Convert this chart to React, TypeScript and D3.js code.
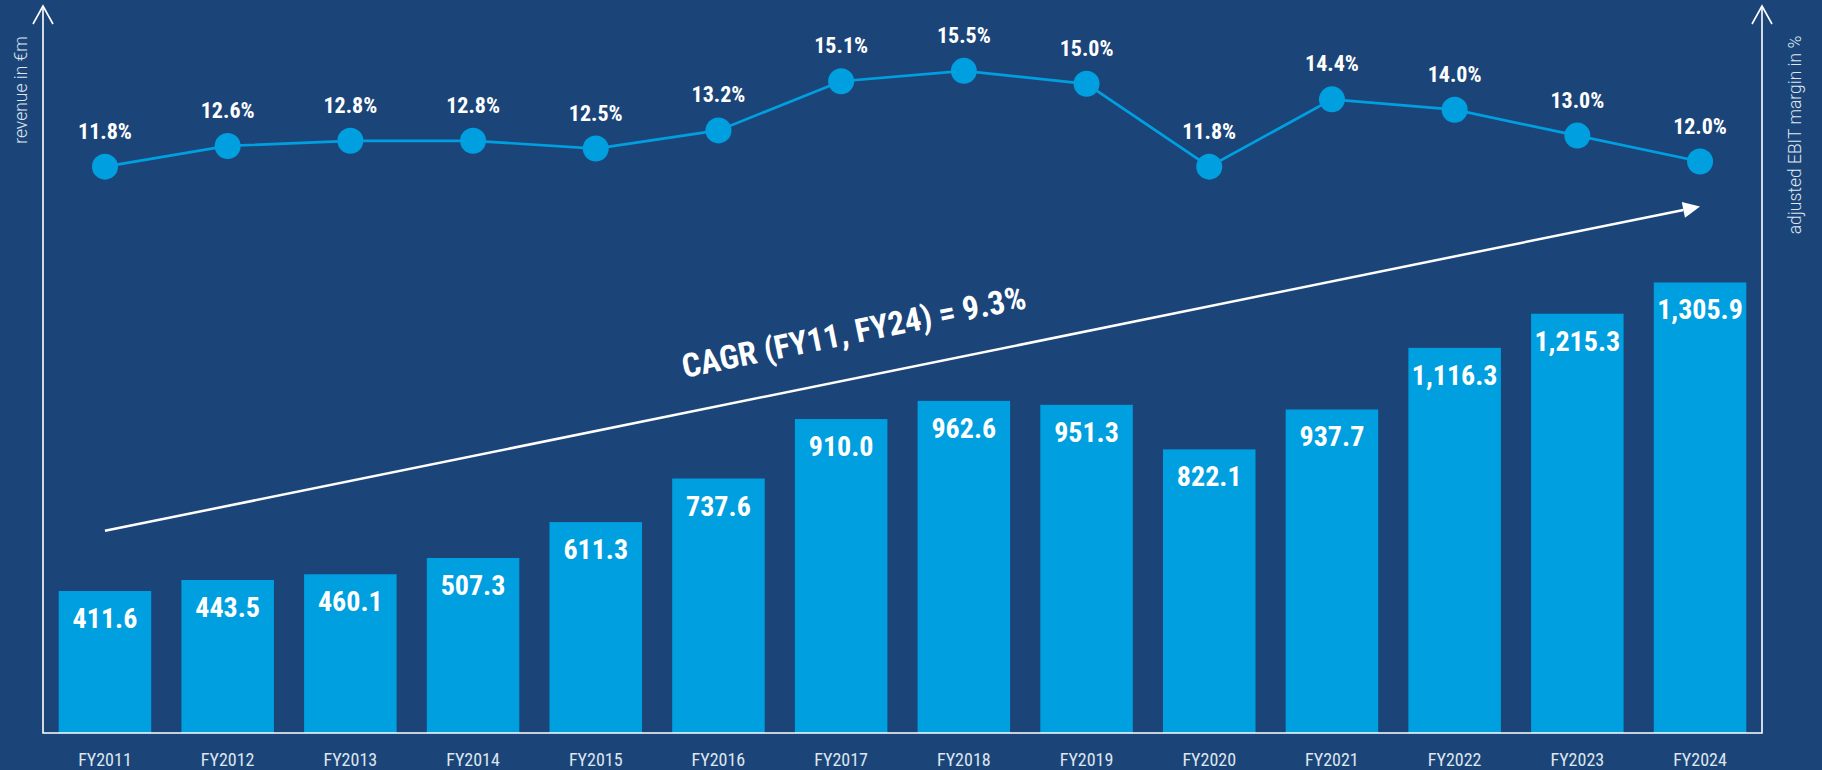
import React from 'react';
import * as d3 from 'd3';

const categories = ['FY2011','FY2012','FY2013','FY2014','FY2015','FY2016','FY2017','FY2018','FY2019','FY2020','FY2021','FY2022','FY2023','FY2024'];
const revenue = [411.6, 443.5, 460.1, 507.3, 611.3, 737.6, 910.0, 962.6, 951.3, 822.1, 937.7, 1116.3, 1215.3, 1305.9];
const ebitMargin = [11.8, 12.6, 12.8, 12.8, 12.5, 13.2, 15.1, 15.5, 15.0, 11.8, 14.4, 14.0, 13.0, 12.0];
const leftAxisTitle = 'revenue in €m';
const rightAxisTitle = 'adjusted EBIT margin in %';
const cagrText = 'CAGR (FY11, FY24) = 9.3%';
// CAGR arrow annotation, expressed in revenue units at first and last category
const cagrArrowFrom = 586;
const cagrArrowTo = 1526;

const W = 1822;
const H = 770;
const BG = '#1b4579';
const BAR = '#009fe0';
const AXIS_TEXT = '#dfe6ef';
const FONT_BOLD = "'Roboto Condensed', 'Liberation Sans Narrow', 'DejaVu Sans Condensed', Roboto, sans-serif";
const FONT = "'Roboto Condensed', 'Liberation Sans Narrow', 'DejaVu Sans Condensed', Roboto, sans-serif";
const FONT_TITLE = "Roboto, 'Open Sans', sans-serif";

export default function App() {
  const left = 43, right = 1762, bottom = 733, top = 6;
  const x = d3.scaleBand<string>().domain(categories).range([left, right]).paddingInner(0.246).paddingOuter(0.128);
  const y = d3.scaleLinear().domain([0, 2000]).range([bottom, bottom - 690]);
  const ym = d3.scaleLinear().domain([10, 16]).range([213.3, 57.9]);
  const cx = (c: string) => (x(c) as number) + x.bandwidth() / 2;
  const line = d3.line<number>().x((_, i) => cx(categories[i])).y(d => ym(d));
  const fmtRev = d3.format(',.1f');
  const fmtM = d3.format('.1f');

  const ax0 = cx(categories[0]);
  const ay0 = y(cagrArrowFrom);
  const ax1 = cx(categories[categories.length - 1]);
  const ay1 = y(cagrArrowTo);
  const ang = Math.atan2(ay1 - ay0, ax1 - ax0);
  const angDeg = (ang * 180) / Math.PI;
  const headLen = 17, headW = 8;
  const bx = ax1 - headLen * Math.cos(ang), by = ay1 - headLen * Math.sin(ang);
  const nx = -Math.sin(ang), ny = Math.cos(ang);
  const head = `M${ax1},${ay1}L${bx + nx * headW},${by + ny * headW}L${bx - nx * headW},${by - ny * headW}Z`;
  const tx = 856, ty = 343;

  return (
    <svg width={W} height={H} style={{ position: 'absolute', left: 0, top: 0, display: 'block' }}>
      <rect x={0} y={0} width={W} height={H} fill={BG} />
      {categories.map((c, i) => (
        <g key={c}>
          <rect x={x(c)} y={y(revenue[i])} width={x.bandwidth()} height={bottom - y(revenue[i])} fill={BAR} />
          <text x={cx(c)} y={y(revenue[i]) + 37} textAnchor="middle" fill="#fff" fontFamily={FONT_BOLD} fontWeight={700} fontSize={28}>
            {fmtRev(revenue[i])}
          </text>
          <text x={cx(c)} y={766} textAnchor="middle" fill={AXIS_TEXT} fontFamily={FONT} fontWeight={400} fontSize={18}>
            {c}
          </text>
        </g>
      ))}
      <path d={line(ebitMargin) || ''} fill="none" stroke={BAR} strokeWidth={2.7} />
      {categories.map((c, i) => (
        <g key={'m' + c}>
          <circle cx={cx(c)} cy={ym(ebitMargin[i])} r={13} fill={BAR} />
          <text x={cx(c)} y={ym(ebitMargin[i]) - 28} textAnchor="middle" fill="#fff" fontFamily={FONT_BOLD} fontWeight={700} fontSize={22}>
            {fmtM(ebitMargin[i]) + '%'}
          </text>
        </g>
      ))}
      {/* axes */}
      <g stroke="#fff" strokeWidth={1.6} fill="none">
        <path d={`M${left},${top}V${bottom}H${right}V${top}`} />
        <path d={`M${left - 10},${top + 18}L${left},${top}L${left + 10},${top + 18}`} />
        <path d={`M${right - 10},${top + 18}L${right},${top}L${right + 10},${top + 18}`} />
      </g>
      <text transform={`translate(27,90) rotate(-90)`} textAnchor="middle" fill={AXIS_TEXT} fontFamily={FONT_TITLE} fontWeight={300} fontSize={17.5}>
        {leftAxisTitle}
      </text>
      <text transform={`translate(1801,135) rotate(-90)`} textAnchor="middle" fill={AXIS_TEXT} fontFamily={FONT_TITLE} fontWeight={300} fontSize={17.5}>
        {rightAxisTitle}
      </text>
      {/* CAGR arrow */}
      <line x1={ax0} y1={ay0} x2={bx} y2={by} stroke="#fff" strokeWidth={2.5} />
      <path d={head} fill="#fff" />
      <text transform={`translate(${tx},${ty}) rotate(${angDeg})`} textAnchor="middle" fill="#fff" fontFamily={FONT_BOLD} fontWeight={700} fontSize={33}>
        {cagrText}
      </text>
    </svg>
  );
}
